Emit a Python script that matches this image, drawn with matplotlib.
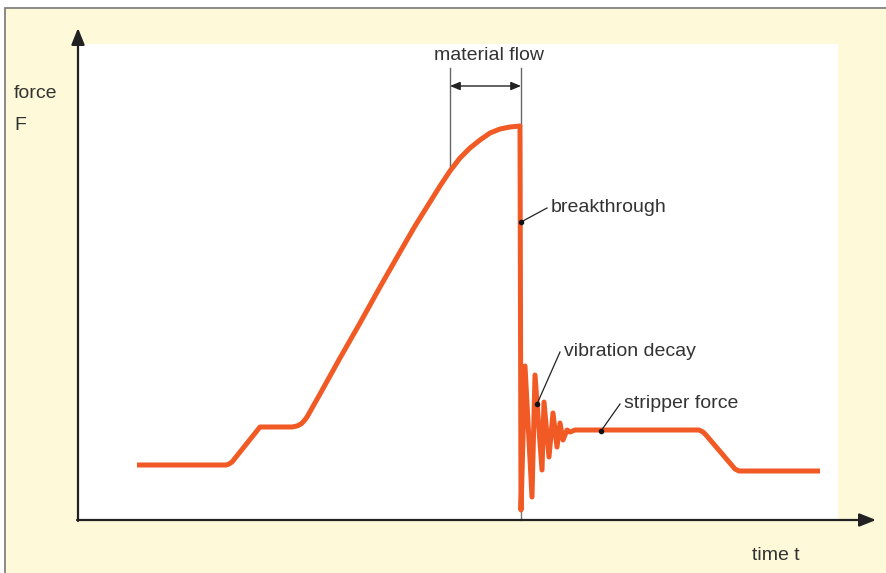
import matplotlib.pyplot as plt
from matplotlib.patches import Rectangle

plt.rcParams['font.family'] = ['Liberation Sans', 'DejaVu Sans']

# punching force curve (time t, force F), arbitrary units
t = [59, 148, 151, 154, 182, 214, 219, 223, 226, 229, 242, 262, 282, 302,
     322, 337, 352, 362, 372, 382, 392, 402, 412, 422, 432, 442,
     443, 447, 454, 457, 464, 466, 471, 475, 479, 482, 485, 489, 492, 497,
     621, 625, 628, 657, 661, 742]
F = [55, 55, 56, 58, 93, 93, 94, 96, 99, 103, 126, 162, 197, 233,
     268, 294, 318, 334, 349, 362, 372, 380, 387, 391, 393, 394,
     10, 154, 23, 145, 50, 118, 63, 107, 73, 97, 80, 90, 88, 90,
     90, 88, 85, 51, 49, 49]

# annotation anchors (t, F) and label positions
flow_start = 372
flow_end = 443
labels = ['breakthrough', 'vibration decay', 'stripper force']
label_pts = [(443, 298), (459, 116), (523, 89)]
label_pos = [(473, 312), (486, 168), (546, 116)]

orange = '#F15A24'
textc = '#333333'

fig = plt.figure(figsize=(8.87, 5.73), dpi=100)
fig.patch.set_facecolor('white')
ax = fig.add_axes([0, 0, 1, 1])
ax.set_xlim(-78, 809)
ax.set_ylim(-53, 520)
ax.axis('off')

# yellow panel with grey frame, white plotting field
ax.add_patch(Rectangle((-73, -70), 920, 582, facecolor='#FEF9D8',
                       edgecolor='#777777', lw=1.2, zorder=0))
ax.add_patch(Rectangle((0, 0), 760, 476, facecolor='white',
                       edgecolor='none', zorder=0.5))

# axes with arrow heads
ax.annotate('', xy=(0, 492), xytext=(0, -1),
            arrowprops=dict(arrowstyle='-|>,head_length=1.0,head_width=0.4',
                            color='#222222', lw=1.6, shrinkA=0, shrinkB=0))
ax.annotate('', xy=(798, 0), xytext=(-1, 0),
            arrowprops=dict(arrowstyle='-|>,head_length=1.0,head_width=0.4',
                            color='#222222', lw=1.6, shrinkA=0, shrinkB=0))
ax.plot([flow_end, flow_end], [0, 10], color='#777777', lw=1, zorder=1)

ax.text(-64, 427, 'force', fontsize=14, color=textc, va='center')
ax.text(-64, 395, 'F', fontsize=14, color=textc, va='center')
ax.text(674, -35, 'time t', fontsize=14, color=textc, va='center')

# material flow marker
ax.plot([flow_start, flow_start], [349, 452], color='#666666', lw=1, zorder=1)
ax.plot([flow_end, flow_end], [394, 452], color='#666666', lw=1, zorder=1)
ax.annotate('', xy=(flow_start, 434), xytext=(flow_end, 434),
            arrowprops=dict(arrowstyle='<|-|>,head_length=0.6,head_width=0.25',
                            color='#222222', lw=1, shrinkA=0, shrinkB=0))
ax.text((flow_start + flow_end) / 2 + 4, 465, 'material flow', fontsize=14,
        color=textc, ha='center', va='center')

ax.plot(t, F, color=orange, lw=3.6, solid_joinstyle='round',
        solid_capstyle='butt', zorder=2)

for name, (px, py), (lx, ly) in zip(labels, label_pts, label_pos):
    ax.plot([px, lx - 4], [py, ly], color='#222222', lw=0.9, zorder=3)
    ax.plot(px, py, 'o', color='#111111', ms=3, zorder=4)
    ax.text(lx, ly, name, fontsize=14, color=textc, va='center')

fig.savefig('out.png', dpi=100)
